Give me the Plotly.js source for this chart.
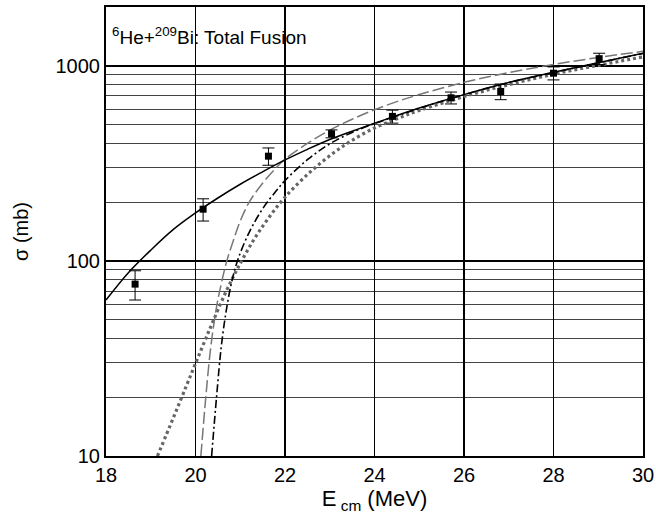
<!DOCTYPE html>
<html><head><meta charset="utf-8">
<script src="https://cdn.plot.ly/plotly-3.0.1.min.js"></script>
<style>html,body{margin:0;padding:0;background:#fff}#plot{width:656px;height:518px}</style>
</head><body><div id="plot"></div>
<script>
// Experimental data
const E_exp = [18.65, 20.17, 21.63, 23.04, 24.40, 25.71, 26.82, 28.00, 29.02];
const sigma_exp = [76, 184, 344, 448, 550, 685, 738, 916, 1087];
const sigma_err = [13, 24, 35, 21, 42, 48, 68, 70, 72];

// Solid black curve
const E_solid = [18.0, 18.5, 19.0, 19.5, 20.0, 20.5, 21.0, 21.5, 22.0, 22.5, 23.0, 23.5, 24.0, 25.0, 26.0, 27.0, 28.0, 29.0, 30.0];
const sigma_solid = [63, 87, 113.5, 144.5, 176, 210, 247, 286, 329, 373, 419, 462, 507, 607, 711, 820, 925, 1037, 1159];

// Gray long-dashed curve
const E_gdash = [20.12, 20.23, 20.34, 20.47, 20.58, 20.70, 20.85, 21.0, 21.2, 21.5, 21.8, 22.0, 22.5, 23.0, 23.5, 24.0, 24.5, 25.0, 26.0, 27.0, 28.0, 29.0, 30.0];
const sigma_gdash = [10, 20, 36, 58, 77, 100, 128, 160, 200, 250, 300, 332, 400, 467, 532, 595, 655, 712, 822, 922, 1015, 1102, 1185];

// Black dash-dot curve
const E_dashdot = [20.36, 20.47, 20.58, 20.70, 20.82, 20.95, 21.2, 21.5, 21.8, 22.0, 22.5, 23.0, 23.5, 24.0, 24.5, 25.0, 26.0, 27.0, 28.0, 29.0, 30.0];
const sigma_dashdot = [10, 20, 37, 58, 80, 102, 140, 185, 228, 258, 330, 398, 455, 505, 553, 605, 711, 820, 922, 1035, 1155];

// Gray dotted curve
const E_dot = [19.15, 19.5, 19.8, 20.0, 20.2, 20.4, 20.7, 21.0, 21.3, 21.6, 22.0, 22.56, 23.08, 23.5, 24.0, 24.5, 25.0, 26.0, 27.0, 28.0, 29.0, 30.0];
const sigma_dot = [10, 15.6, 23, 29.8, 38.5, 49.5, 71, 97, 128, 162, 212, 285, 357, 415, 480, 535, 590, 695, 800, 905, 1005, 1110];

// Axis ticks
const yMajorVals = [10, 100, 1000];
const yMajorText = ['10', '100', '1000'];
const yMinorVals = [20, 30, 40, 50, 60, 70, 80, 90, 200, 300, 400, 500, 600, 700, 800, 900, 2000];
const xTickVals = [18, 20, 22, 24, 26, 28, 30];

const traces = [
  {x: E_dot, y: sigma_dot, mode: 'lines', line: {color: '#666', width: 3.2, dash: '3px,3px', shape: 'spline'}, hoverinfo: 'skip'},
  {x: E_gdash, y: sigma_gdash, mode: 'lines', line: {color: '#777', width: 1.5, dash: '12px,4px', shape: 'spline'}, hoverinfo: 'skip'},
  {x: E_dashdot, y: sigma_dashdot, mode: 'lines', line: {color: '#000', width: 1.6, dash: '8px,3px,2px,3px', shape: 'spline'}, hoverinfo: 'skip'},
  {x: E_solid, y: sigma_solid, mode: 'lines', line: {color: '#000', width: 1.5, shape: 'spline'}, hoverinfo: 'skip'},
  {x: E_exp, y: sigma_exp, mode: 'markers', marker: {symbol: 'square', size: 7, color: '#000'},
   error_y: {type: 'data', array: sigma_err, visible: true, color: '#000', thickness: 1, width: 6}}
];

const fam = 'Liberation Sans, Arial, sans-serif';
const tickFont = {family: fam, size: 20, color: '#000'};
const layout = {
  width: 656, height: 518,
  margin: {l: 106, r: 13, t: 7, b: 62},
  paper_bgcolor: '#fff', plot_bgcolor: '#fff',
  showlegend: false,
  font: {family: fam, size: 20, color: '#000'},
  xaxis: {
    range: [18, 30], tickmode: 'array', tickvals: xTickVals,
    showgrid: true, gridcolor: '#000', gridwidth: 1.3,
    showline: true, linecolor: '#000', linewidth: 2, mirror: true,
    ticks: '', zeroline: false, tickfont: tickFont,
    title: {text: 'E<sub> cm</sub> (MeV)', font: {family: fam, size: 22, color: '#000'}, standoff: 4}
  },
  yaxis: {
    type: 'log', range: [1, Math.log10(2000)],
    tickmode: 'array', tickvals: yMajorVals, ticktext: yMajorText,
    showgrid: true, gridcolor: '#000', gridwidth: 1.6,
    minor: {tickmode: 'array', tickvals: yMinorVals, showgrid: true, gridcolor: '#444', gridwidth: 1, ticks: ''},
    showline: true, linecolor: '#000', linewidth: 2, mirror: true,
    ticks: '', zeroline: false, tickfont: tickFont,
    title: {text: 'σ (mb)', font: {family: fam, size: 20, color: '#000'}, standoff: 22}
  },
  annotations: [{
    xref: 'paper', yref: 'paper', x: 0.008, y: 0.935, xanchor: 'left', yanchor: 'middle',
    text: '<sup>6</sup>He+<sup>209</sup>Bi: Total Fusion', showarrow: false,
    font: {family: fam, size: 19, color: '#000'}
  }]
};
Plotly.newPlot('plot', traces, layout, {displayModeBar: false, staticPlot: true});
</script>
</body></html>
